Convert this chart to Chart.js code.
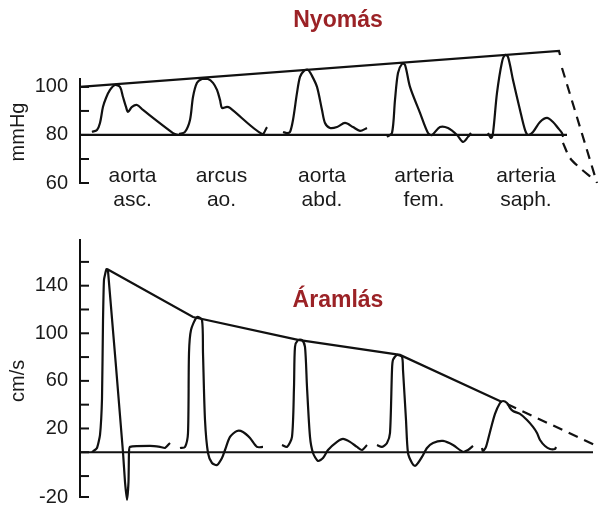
<!DOCTYPE html>
<html>
<head>
<meta charset="utf-8">
<script src="https://cdn.jsdelivr.net/npm/chart.js@4.4.1/dist/chart.umd.min.js"></script>
<style>
  body { margin: 0; background: #fff; font-family: "Liberation Sans", Arial, sans-serif; }
  #page { position: relative; width: 598px; height: 509px; overflow: hidden; }
  #topBox { position: absolute; left: 0; top: 0; width: 598px; height: 225px; }
  #botBox { position: absolute; left: 0; top: 220px; width: 598px; height: 289px; }
  .titulo { position: absolute; left: 238px; width: 200px; text-align: center; color: #9b2226;
            font-weight: bold; font-size: 23px; line-height: 23px; z-index: 2; }
</style>
</head>
<body>
<div id="page">
  <div id="topBox"><canvas id="chartNyomas" width="598" height="225"></canvas></div>
  <div id="botBox"><canvas id="chartAramlas" width="598" height="289"></canvas></div>
  <div class="titulo" style="top:8px">Nyomás</div>
  <div class="titulo" style="top:288px">Áramlás</div>
</div>
<script>
// helyek (x a hullam kozepe)
var siteLine1 = ['aorta', 'arcus', 'aorta', 'arteria', 'arteria'];
var siteLine2 = ['asc.', 'ao.', 'abd.', 'fem.', 'saph.'];
var siteX = [10.5, 28.3, 48.4, 68.8, 89.2];

// nyomas, mmHg  [x, y]
var pAsc = [[2.4,81.25],[3.4,82.1],[4,85],[4.6,91.7],[5.2,95.4],[6,98.75],[7,100.8],[8,100],[8.6,95.8],[9.2,91.7],[9.6,89.6],[10.4,91.7],[11.4,92.5],[12.6,90.4],[18.6,80.8],[19.6,80]];
var pArc = [[19.8,80.4],[21,81.3],[22,86.25],[22.6,95.8],[23.4,101.7],[24.4,103.3],[25.6,103.3],[26.6,101.7],[27.4,98.75],[28,94.6],[28.4,91.25],[29.4,91.7],[30,91.25],[36.4,80.4],[37.4,83.3]];
var pAbd = [[40.6,81.25],[41.4,80.8],[42,81.25],[42.6,86.25],[43.4,97.5],[44,104.2],[44.8,106.7],[45.6,107.1],[46.4,104.6],[47.4,100],[48.4,90.4],[49,85],[50,82.9],[51.4,83.3],[53,85],[54.6,83.3],[56,81.7],[57.4,82.9]];
var pFem = [[61.4,79.2],[62.4,80.8],[63,94.6],[63.6,105.8],[64.4,109.6],[65,109.2],[66,100],[68,89.2],[69.6,80.8],[70.4,80],[72,83.3],[73.6,82.9],[75.4,80],[76.6,77.1],[77.6,79.2],[78.2,80.8]];
var pSaph = [[81.6,80.8],[82.2,78.75],[82.6,80.8],[83.4,97.5],[84.4,110.4],[85,113.3],[85.6,112.5],[86.6,102.9],[88,90.4],[89,82.1],[89.6,80],[90.6,81.25],[92,85.4],[93.4,87.1],[94.6,85.4],[95.6,82.9],[96.4,80.8],[96.6,79.2]];
var pEnvelope = [[0,100],[95.8,115],[96,113.3]];
var pBase = [[0,80],[97.4,80]];
var pDash1 = [[96.4,107.9],[103.4,60]];
var pDash2 = [[96.6,76.7],[98,70.4],[100,66.25],[102.4,62.1]];
var pressTicks = [60, 70, 80, 90, 100];
var pressTickLabels = ['60', '', '80', '', '100'];

// aramlas, cm/s  [x, y]
var fAsc = [[2.4,0],[3.4,3.6],[4,14.5],[4.4,45],[4.6,110],[4.8,145],[5.3,154],[5.6,152.4],[8.6,0],[9,-25],[9.4,-40],[9.7,-25],[9.8,0],[10,4.5],[14,5.3],[16,4.5],[17,3.6],[18,7.8]];
var fArc = [[20,3.6],[21,4.5],[21.6,16.2],[21.8,83.4],[22.2,102.8],[23.4,113.7],[24.4,111.2],[24.6,83.4],[25,27.1],[25.6,-0.6],[26.4,-9],[27.4,-10.7],[28.4,-4.8],[29,1.9],[30,12.9],[31.4,17.9],[32.6,17.1],[34,12],[35.4,4.5],[36.6,4.5]];
var fAbd = [[40.4,6.1],[41.4,4.5],[42.4,12.9],[42.8,54.9],[43,88.5],[43.6,94.4],[44.4,94.4],[45,88.5],[45.4,54.9],[46,12.9],[46.6,-0.6],[47.6,-7.3],[48.6,-4.8],[49.6,1.9],[51.4,8.7],[52.6,11.2],[54,8.7],[55.4,4.5],[56.4,1.9],[57.4,6.1]];
var fFem = [[59.4,6.1],[60.4,4.5],[61.4,7.8],[62,16.2],[62.4,69.2],[62.6,77.6],[63.4,81.8],[64.4,80.1],[64.6,69.2],[65.2,27.1],[65.6,-0.6],[66.4,-9],[67,-11.5],[67.6,-9],[68.4,-3.9],[69.4,3.6],[70.6,7.8],[72.6,9.5],[74.6,6.1],[76.6,0.3],[77.6,1.9],[78.6,5.3]];
var fSaph = [[80.4,3.6],[80.6,1.1],[81.2,4.5],[82,17.1],[83,32.2],[84,41.4],[84.6,43.1],[85.4,41.4],[86,37.2],[86.6,34.7],[88,32.2],[89.4,27.1],[90.6,21.3],[91.4,16.2],[92,10.3],[93,5.3],[94,2.8],[95,2.8],[95.2,4.5]];
var fEnvelope = [[5.4,154],[22.6,113.7],[43.6,94.4],[64,81.8],[84.4,42.3]];
var fDash = [[85.4,40.5],[103,6.1]];
var fBase = [[0,0],[102.6,0]];
var flowTicks = [-37.6, -20, 0, 20, 40, 60, 80, 100, 120, 140, 160];
var flowTickLabels = ['-20', '', '', '20', '', '60', '', '100', '', '140', ''];

Chart.defaults.font.family = '"Liberation Sans", Arial, sans-serif';
Chart.defaults.color = '#1a1a1a';

function pts(arr) {
    return arr.map(function(p) { return { x: p[0], y: p[1] }; });
}

function vonal(arr, tension, dash) {
    return {
        data: pts(arr),
        borderColor: '#111',
        borderWidth: 2.2,
        borderDash: dash || [],
        pointRadius: 0,
        tension: tension,
        clip: false
    };
}

// befele allo osztasok + mertekegyseg
var innerTicks = {
    id: 'innerTicks',
    afterDraw: function(chart) {
        var y = chart.scales.y;
        var ctx = chart.ctx;
        ctx.save();
        ctx.strokeStyle = '#111';
        ctx.lineWidth = 2;
        y.ticks.forEach(function(t) {
            var py = y.getPixelForValue(t.value);
            ctx.beginPath();
            ctx.moveTo(y.right, py);
            ctx.lineTo(y.right + 9, py);
            ctx.stroke();
        });
        var o = chart.options.plugins.unit;
        ctx.translate(18, y.getPixelForValue(o.at));
        ctx.rotate(-Math.PI / 2);
        ctx.fillStyle = '#1a1a1a';
        ctx.font = '20px "Liberation Sans", Arial, sans-serif';
        ctx.textAlign = 'center';
        ctx.textBaseline = 'middle';
        ctx.fillText(o.text, 0, 0);
        ctx.restore();
    }
};

var siteLabels = {
    id: 'siteLabels',
    afterDraw: function(chart) {
        if (!chart.options.plugins.siteLabels.show) return;
        var x = chart.scales.x, y = chart.scales.y, ctx = chart.ctx;
        ctx.save();
        ctx.fillStyle = '#1a1a1a';
        ctx.font = '21px "Liberation Sans", Arial, sans-serif';
        ctx.textAlign = 'center';
        ctx.textBaseline = 'alphabetic';
        for (var i = 0; i < siteX.length; i++) {
            var px = x.getPixelForValue(siteX[i]);
            ctx.fillText(siteLine1[i], px, y.bottom - 1);
            ctx.fillText(siteLine2[i], px, y.bottom + 23);
        }
        ctx.restore();
    }
};

function opciok(min, max, ticks, labels, pad, unitText, unitAt, sites) {
    return {
        responsive: false,
        animation: false,
        layout: { padding: pad },
        plugins: {
            legend: { display: false },
            tooltip: { enabled: false },
            unit: { text: unitText, at: unitAt },
            siteLabels: { show: sites }
        },
        scales: {
            x: { type: 'linear', min: 0, max: 103.6, display: false },
            y: {
                type: 'linear',
                min: min,
                max: max,
                afterFit: function(s) {
                    s.width = 80;
                    s.paddingTop = 0;
                    s.paddingBottom = 0;
                },
                afterBuildTicks: function(s) {
                    s.ticks = ticks.map(function(v) { return { value: v }; });
                },
                grid: { display: false, drawTicks: false },
                border: { display: true, color: '#111', width: 2 },
                ticks: {
                    autoSkip: false,
                    padding: 12,
                    font: { size: 20 },
                    color: '#1a1a1a',
                    callback: function(v, i) { return labels[i]; }
                }
            }
        }
    };
}

var grafico1 = new Chart(document.getElementById('chartNyomas'), {
    type: 'line',
    data: {
        datasets: [
            vonal(pBase, 0),
            vonal(pEnvelope, 0),
            vonal(pAsc, 0.3),
            vonal(pArc, 0.3),
            vonal(pAbd, 0.3),
            vonal(pFem, 0.3),
            vonal(pSaph, 0.3),
            vonal(pDash1, 0, [10, 7]),
            vonal(pDash2, 0.3, [10, 7])
        ]
    },
    options: opciok(60, 103.3, pressTicks, pressTickLabels,
        { top: 79, bottom: 42, left: 0, right: 0 }, 'mmHg', 81.25, true),
    plugins: [innerTicks, siteLabels]
});

var grafico2 = new Chart(document.getElementById('chartAramlas'), {
    type: 'line',
    data: {
        datasets: [
            vonal(fBase, 0),
            vonal(fEnvelope, 0),
            vonal(fAsc, 0.15),
            vonal(fArc, 0.25),
            vonal(fAbd, 0.25),
            vonal(fFem, 0.25),
            vonal(fSaph, 0.25),
            vonal(fDash, 0, [10, 7])
        ]
    },
    options: opciok(-37.6, 178.4, flowTicks, flowTickLabels,
        { top: 20, bottom: 12, left: 0, right: 0 }, 'cm/s', 60, false),
    plugins: [innerTicks, siteLabels]
});
</script>
</body>
</html>
